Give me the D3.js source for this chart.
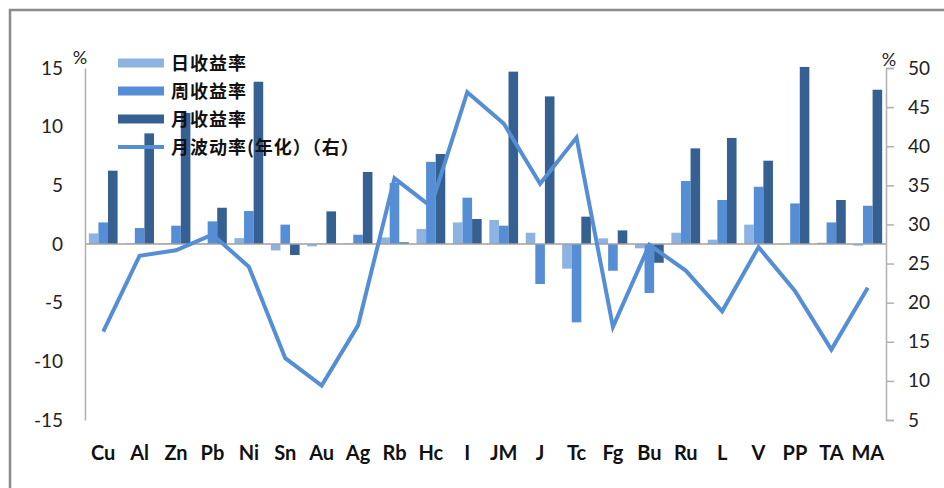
<!DOCTYPE html>
<html>
<head>
<meta charset="utf-8">
<script src="https://cdn.jsdelivr.net/npm/d3@7"></script>
<style>
  html, body { margin: 0; padding: 0; background: #fff; }
  svg { display: block; }
</style>
</head>
<body>
<svg id="chart" width="944" height="488"></svg>
<script>
// Commodity futures returns (%, left axis) and annualised monthly volatility (%, right axis)
const categories = ["Cu","Al","Zn","Pb","Ni","Sn","Au","Ag","Rb","Hc","I","JM","J","Tc","Fg","Bu","Ru","L","V","PP","TA","MA"];
const dailyReturn   = [0.90, 0.05, 0.05, 0.05, 0.50, -0.55, -0.20, 0.05, 0.56, 1.28, 1.84, 2.05, 0.96, -2.10, 0.48, -0.37, 0.96, 0.37, 1.65, 0.03, 0.11, -0.14];
const weeklyReturn  = [1.84, 1.36, 1.56, 1.93, 2.81, 1.65, 0.03, 0.79, 5.20, 7.00, 3.95, 1.56, -3.41, -6.68, -2.28, -4.18, 5.37, 3.75, 4.88, 3.46, 1.84, 3.26];
const monthlyReturn = [6.25, 9.43, 11.17, 3.09, 13.83, -0.94, 2.78, 6.14, 0.14, 7.67, 2.13, 14.69, 12.58, 2.33, 1.16, -1.60, 8.15, 9.04, 7.10, 15.09, 3.75, 13.15];
const monthlyVol    = [16.3, 26.0, 26.7, 28.7, 24.6, 12.9, 9.4, 17.1, 35.9, 32.3, 46.9, 42.9, 35.2, 41.1, 16.9, 27.4, 24.1, 18.9, 27.1, 21.5, 14.0, 21.9];

const leftTicks  = [-15, -10, -5, 0, 5, 10, 15];
const rightTicks = [5, 10, 15, 20, 25, 30, 35, 40, 45, 50];

const barSeries = [
  { name: "日收益率", values: dailyReturn,   color: "#8db3e2" },
  { name: "周收益率", values: weeklyReturn,  color: "#558ed5" },
  { name: "月收益率", values: monthlyReturn, color: "#366092" }
];
const lineSeries = { name: "月波动率(年化）（右）", values: monthlyVol, color: "#558ed5" };

const svg = d3.select("#chart");
const numFont = "Lato, 'Liberation Sans', sans-serif";
const cjkFont = "'Noto Sans CJK SC', sans-serif";
const fmt = d => String(d); // plain hyphen for negatives

// outer frame
svg.append("path")
  .attr("d", "M10,490 L10,10 L946,10")
  .attr("fill", "none")
  .attr("stroke", "#8c8c8c")
  .attr("stroke-width", 2.5);

const plot = { left: 85, right: 886, top: 68, bottom: 420 };

const x = d3.scaleBand()
  .domain(categories)
  .range([plot.left, plot.right])
  .paddingInner(0.21)
  .paddingOuter(0.105);

const xInner = d3.scaleBand()
  .domain(barSeries.map(s => s.name))
  .range([0, x.bandwidth()])
  .padding(0);

const yLeft = d3.scaleLinear().domain([-15, 15]).range([plot.bottom, plot.top]);
const yRight = d3.scaleLinear().domain([5, 50]).range([plot.bottom, plot.top]);

// bars
barSeries.forEach(s => {
  svg.append("g")
    .selectAll("rect")
    .data(categories.map((c, i) => ({ c, v: s.values[i] })))
    .join("rect")
    .attr("x", d => x(d.c) + xInner(s.name))
    .attr("width", xInner.bandwidth())
    .attr("y", d => yLeft(Math.max(0, d.v)))
    .attr("height", d => Math.abs(yLeft(d.v) - yLeft(0)))
    .attr("fill", s.color);
});

// zero line
svg.append("line")
  .attr("x1", plot.left).attr("x2", plot.right)
  .attr("y1", yLeft(0)).attr("y2", yLeft(0))
  .attr("stroke", "#a0a0a0").attr("stroke-width", 1.5);

// left axis
const gL = svg.append("g")
  .attr("transform", `translate(${plot.left},0)`)
  .call(d3.axisLeft(yLeft).tickValues(leftTicks).tickSize(0).tickPadding(22).tickFormat(fmt));
gL.select(".domain").attr("stroke", "#b0b0b0").attr("stroke-width", 1.5);
gL.selectAll("text").attr("font-family", numFont).attr("font-size", 19).attr("fill", "#222");

// right axis
const gR = svg.append("g")
  .attr("transform", `translate(${plot.right},0)`)
  .call(d3.axisRight(yRight).tickValues(rightTicks).tickSizeInner(8).tickSizeOuter(8).tickPadding(14).tickFormat(fmt));
gR.select(".domain").attr("stroke", "#b0b0b0").attr("stroke-width", 1.5);
gR.selectAll(".tick line").attr("stroke", "#b0b0b0").attr("stroke-width", 1.5);
gR.selectAll("text").attr("font-family", numFont).attr("font-size", 19).attr("fill", "#222");

// unit labels
svg.append("text").attr("x", 80).attr("y", 64).attr("text-anchor", "middle")
  .attr("font-family", numFont).attr("font-size", 18).attr("fill", "#222").text("%");
svg.append("text").attr("x", 889).attr("y", 66).attr("text-anchor", "middle")
  .attr("font-family", numFont).attr("font-size", 18).attr("fill", "#222").text("%");

// category labels
svg.append("g")
  .selectAll("text")
  .data(categories)
  .join("text")
  .attr("x", d => x(d) + x.bandwidth() / 2)
  .attr("y", 460)
  .attr("text-anchor", "middle")
  .attr("font-family", numFont)
  .attr("font-weight", 700)
  .attr("font-size", 20)
  .attr("fill", "#111")
  .text(d => d);

// volatility line
const line = d3.line()
  .x((d, i) => x(categories[i]) + x.bandwidth() / 2)
  .y(d => yRight(d));
svg.append("path")
  .datum(lineSeries.values)
  .attr("d", line)
  .attr("fill", "none")
  .attr("stroke", lineSeries.color)
  .attr("stroke-width", 4)
  .attr("stroke-linejoin", "miter");

// legend
const legend = svg.append("g").attr("transform", "translate(118,63)");
const rowH = 28;
barSeries.forEach((s, i) => {
  legend.append("rect")
    .attr("x", 0).attr("y", i * rowH - 4.5)
    .attr("width", 46).attr("height", 9)
    .attr("fill", s.color);
  legend.append("text")
    .attr("x", 53).attr("y", i * rowH + 7)
    .attr("font-family", cjkFont).attr("font-weight", 700)
    .attr("font-size", 18).attr("letter-spacing", 1).attr("fill", "#111")
    .text(s.name);
});
legend.append("line")
  .attr("x1", 0).attr("x2", 46)
  .attr("y1", 3 * rowH).attr("y2", 3 * rowH)
  .attr("stroke", lineSeries.color).attr("stroke-width", 4);
legend.append("text")
  .attr("x", 53).attr("y", 3 * rowH + 7)
  .attr("font-family", cjkFont).attr("font-weight", 700)
  .attr("font-size", 18).attr("letter-spacing", 1).attr("fill", "#111")
  .text(lineSeries.name);
</script>
</body>
</html>
